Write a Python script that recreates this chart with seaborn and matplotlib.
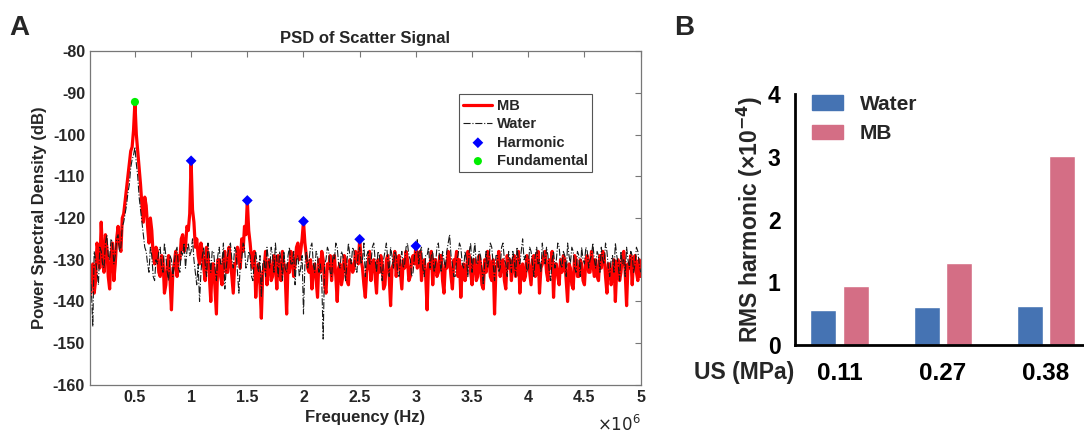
import numpy as np
import matplotlib.pyplot as plt
import pandas as pd
import seaborn as sns
from matplotlib.ticker import FuncFormatter
from matplotlib.patches import Patch

sns.set_style("white")
plt.rcParams['font.family'] = ['Liberation Sans', 'DejaVu Sans']
plt.rcParams['axes.unicode_minus'] = False

# PSD values, 0.1 to 5.0 MHz in 0.0125 MHz steps (20 per row = 0.25 MHz)
freq_mhz = np.linspace(0.1, 5.0, 393)
mb_db = [
    -139, -134, -131, -138, -135, -126, -128, -132, -121, -129, -133, -124, -127, -134, -137, -129, -126, -135, -131, -125,
    -122, -126, -128, -120, -119, -116, -113, -110, -107, -104, -103, -99, -92.2, -100, -104, -108, -112, -117, -121, -115,
    -117, -122, -126, -120, -123, -129, -131, -127, -128, -133, -134, -129, -130, -138, -136, -131, -129, -135, -142, -133,
    -131, -128, -134, -129, -130, -125, -124, -128, -127, -122, -123, -119, -106.3, -118, -121, -127, -125, -129, -131, -126,
    -128, -132, -135, -127, -129, -134, -140, -131, -131, -137, -143, -130, -130, -134, -136, -129, -128, -133, -133, -127,
    -130, -134, -138, -131, -131, -127, -129, -132, -125, -128, -122, -124, -115.8, -123, -126, -130, -132, -128, -139, -133,
    -131, -136, -144, -133, -132, -128, -136, -131, -130, -135, -134, -129, -131, -137, -129, -133, -135, -128, -131, -134,
    -143, -131, -133, -128, -130, -134, -131, -127, -126, -130, -128, -125, -120.8, -126, -129, -132, -133, -130, -137, -132,
    -131, -135, -139, -130, -133, -128, -130, -136, -138, -131, -132, -129, -135, -131, -129, -134, -140, -132, -131, -136,
    -134, -129, -130, -135, -136, -130, -131, -133, -132, -128, -129, -131, -125.1, -130, -132, -136, -139, -133, -131, -128,
    -135, -131, -130, -134, -138, -130, -133, -129, -131, -137, -136, -130, -129, -134, -141, -132, -131, -128, -134, -130,
    -129, -133, -137, -130, -132, -128, -130, -135, -134, -130, -129, -131, -126.7, -132, -131, -128, -135, -131, -130, -134,
    -142, -131, -132, -128, -136, -130, -130, -134, -133, -129, -129, -135, -138, -131, -132, -128, -130, -134, -137, -130,
    -131, -128, -134, -130, -139, -132, -131, -135, -133, -128, -129, -133, -136, -130, -130, -135, -134, -129, -131, -136,
    -137, -130, -133, -128, -129, -134, -135, -130, -143, -132, -131, -128, -134, -131, -130, -135, -137, -129, -132, -130,
    -135, -131, -129, -134, -133, -128, -138, -132, -131, -135, -134, -129, -130, -133, -136, -130, -129, -134, -133, -128,
    -138, -132, -131, -129, -128, -133, -135, -130, -132, -128, -139, -131, -131, -134, -136, -130, -133, -129, -130, -135,
    -140, -131, -132, -136, -137, -129, -130, -134, -134, -130, -131, -135, -136, -130, -129, -133, -133, -128, -131, -134,
    -130, -134, -135, -129, -132, -128, -129, -134, -138, -131, -131, -136, -134, -130, -140, -132, -130, -135, -133, -129,
    -128, -133, -141, -131, -132, -129, -136, -130, -129, -133, -135, -130, -134,
]
water_db = [
    -133, -137, -146, -128, -130, -133, -136, -127, -128, -131, -132, -126, -124, -129, -130, -125, -126, -131, -129, -125,
    -124, -128, -127, -122, -121, -119, -117, -114, -112, -108, -106, -105, -103, -107, -110, -115, -118, -121, -124, -127,
    -128, -131, -133, -127, -129, -134, -135, -130, -131, -128, -127, -132, -133, -126, -129, -133, -135, -129, -130, -134,
    -131, -128, -127, -132, -133, -128, -129, -126, -132, -128, -126, -129, -128, -125, -130, -133, -136, -131, -140, -133,
    -129, -127, -131, -134, -126, -129, -133, -128, -128, -132, -135, -129, -127, -131, -131, -126, -137, -132, -129, -127,
    -126, -130, -132, -127, -128, -133, -138, -131, -130, -126, -127, -132, -131, -128, -129, -134, -135, -130, -128, -131,
    -133, -129, -139, -131, -130, -134, -127, -130, -132, -127, -129, -133, -126, -130, -134, -128, -130, -135, -128, -132,
    -133, -129, -127, -131, -131, -128, -136, -130, -129, -134, -132, -129, -143, -131, -128, -132, -130, -127, -126, -131,
    -133, -128, -129, -133, -131, -135, -149, -131, -130, -127, -128, -133, -134, -129, -130, -126, -127, -131, -132, -128,
    -129, -132, -135, -130, -126, -129, -131, -127, -128, -132, -133, -128, -127, -131, -130, -126, -134, -129, -128, -131,
    -131, -127, -126, -130, -133, -128, -129, -132, -135, -130, -128, -126, -130, -134, -127, -129, -132, -128, -129, -133,
    -134, -130, -128, -132, -131, -127, -126, -129, -130, -134, -133, -129, -128, -125, -131, -128, -127, -132, -134, -129,
    -129, -127, -132, -129, -128, -133, -131, -127, -126, -130, -133, -128, -130, -132, -128, -126, -124, -129, -131, -134,
    -134, -130, -129, -126, -127, -131, -132, -128, -130, -134, -128, -126, -133, -129, -126, -131, -131, -128, -129, -132,
    -136, -131, -128, -132, -130, -126, -127, -131, -135, -129, -129, -133, -132, -127, -126, -130, -131, -134, -128, -130,
    -133, -128, -130, -134, -127, -130, -131, -128, -125, -130, -129, -133, -132, -127, -128, -131, -134, -129, -127, -131,
    -130, -133, -126, -129, -131, -127, -129, -133, -135, -130, -128, -132, -130, -126, -127, -131, -132, -128, -129, -134,
    -126, -129, -131, -127, -128, -132, -133, -128, -129, -134, -127, -130, -131, -127, -128, -132, -130, -129, -126, -130,
    -132, -128, -129, -133, -127, -130, -131, -126, -128, -132, -134, -130, -129, -133, -126, -129, -131, -135, -128, -131,
    -130, -134, -127, -130, -132, -128, -129, -133, -131, -127, -128, -131, -133,
]
harm_mhz = [1.0, 1.5, 2.0, 2.5, 3.0]
harm_db = [-106.3, -115.8, -120.8, -125.1, -126.7]
fund_mhz = [0.5]
fund_db = [-92.2]

# panel B
pressure = ['0.11', '0.27', '0.38']
rms_water = [0.56, 0.61, 0.62]
rms_mb = [0.94, 1.31, 3.02]

fig = plt.figure(figsize=(10.84, 4.36), dpi=100)
axA = fig.add_axes([0.083, 0.117, 0.508, 0.766])
axB = fig.add_axes([0.733, 0.209, 0.267, 0.575])

# ---- A ----
hz = freq_mhz * 1e6
sns.lineplot(x=hz, y=mb_db, color='#ff0000', lw=2.3, label='MB', ax=axA)
sns.lineplot(x=hz, y=water_db, color='#1a1a1a', lw=0.8, ls='-.', label='Water', ax=axA)
sns.scatterplot(x=np.array(harm_mhz) * 1e6, y=harm_db, color='#0000ff', marker='D', s=30,
                edgecolor='none', label='Harmonic', ax=axA, zorder=5)
sns.scatterplot(x=np.array(fund_mhz) * 1e6, y=fund_db, color='#00ee00', marker='o', s=34,
                edgecolor='none', label='Fundamental', ax=axA, zorder=5)

axA.set_xlim(0.1e6, 5.0e6)
axA.set_ylim(-160, -80)
axA.set_xticks(np.arange(0.5, 5.01, 0.5) * 1e6)
axA.set_yticks(np.arange(-160, -79, 10))
axA.xaxis.set_major_formatter(FuncFormatter(lambda v, p: f"{v / 1e6:g}"))
axA.tick_params(direction='in', length=4, width=0.8, top=True, right=True,
                colors='#777777', labelcolor='#262626', labelsize=11.5)
for t in axA.get_xticklabels() + axA.get_yticklabels():
    t.set_fontweight('bold')
for s in axA.spines.values():
    s.set_color('#777777')
    s.set_linewidth(0.9)
axA.set_xlabel('Frequency (Hz)', fontsize=12, fontweight='bold', color='#262626', labelpad=4)
axA.set_ylabel('Power Spectral Density (dB)', fontsize=12, fontweight='bold', color='#262626', labelpad=4)
axA.set_title('PSD of Scatter Signal', fontsize=12, fontweight='bold', pad=6)
fig.text(0.591, 0.012, r'$\times 10^{6}$', fontsize=12, color='#262626', ha='right', va='baseline')

leg = axA.legend(loc='upper left', bbox_to_anchor=(0.67, 0.87), fontsize=10.5,
                 frameon=True, fancybox=False, framealpha=1, edgecolor='#555555',
                 borderpad=0.3, labelspacing=0.3, handlelength=2.0, handletextpad=0.3,
                 borderaxespad=0)
for t in leg.get_texts():
    t.set_fontweight('bold')
leg.get_frame().set_linewidth(0.8)

# ---- B ----
df = pd.DataFrame({
    'US': pressure * 2,
    'RMS': rms_water + rms_mb,
    'group': ['Water'] * 3 + ['MB'] * 3,
})
c_water, c_mb = '#4573b3', '#d46e85'
sns.barplot(data=df, x='US', y='RMS', hue='group', palette=[c_water, c_mb],
            width=0.631, gap=0.2, saturation=1, legend=False, ax=axB)
axB.set_xlim(-0.437, 2.369)
axB.set_ylim(0, 4)
axB.set_yticks([0, 1, 2, 3, 4])
sns.despine(ax=axB)
for s in ['left', 'bottom']:
    axB.spines[s].set_linewidth(2)
    axB.spines[s].set_color('black')
axB.tick_params(direction='out', length=7, width=2, labelsize=16.5, colors='black', pad=3)
axB.tick_params(axis='x', pad=5, labelsize=17.5)
for t in axB.get_xticklabels() + axB.get_yticklabels():
    t.set_fontweight('bold')
axB.set_xlabel('')
axB.set_ylabel(r'RMS harmonic (×10$^{\mathbf{-4}}$)', fontsize=16.5, fontweight='bold', labelpad=2)
fig.text(0.733, 0.145, 'US (MPa)', fontsize=16.5, fontweight='bold', ha='right', va='center')
legB = axB.legend(handles=[Patch(color=c_water, label='Water'), Patch(color=c_mb, label='MB')],
                  loc='upper left', bbox_to_anchor=(0.03, 1.03), frameon=False,
                  fontsize=15, handlelength=1.5, handleheight=0.7, handletextpad=0.8,
                  labelspacing=0.5, borderaxespad=0)
for t in legB.get_texts():
    t.set_fontweight('bold')

fig.text(0.009, 0.92, 'A', fontsize=20, fontweight='bold', va='baseline')
fig.text(0.622, 0.92, 'B', fontsize=20, fontweight='bold', va='baseline')

fig.savefig('out.png', dpi=100)
